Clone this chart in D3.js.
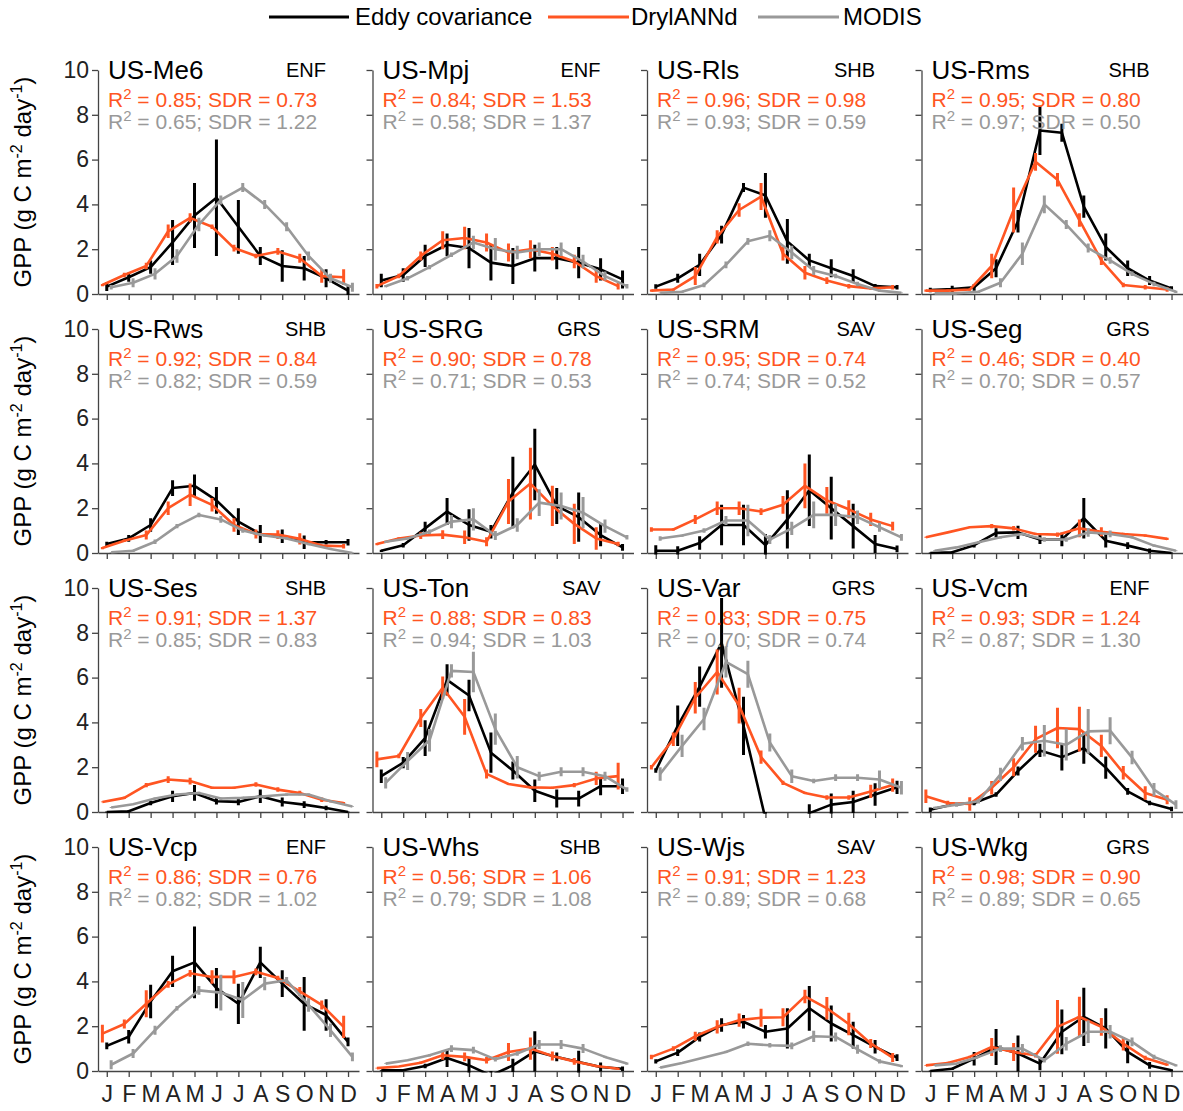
<!DOCTYPE html>
<html>
<head>
<meta charset="utf-8">
<script src="https://cdn.jsdelivr.net/npm/d3@7"></script>
<style>
  body { margin: 0; background: #fff; }
  svg { display: block; font-family: "Liberation Sans", Arial, Helvetica, sans-serif; }
</style>
</head>
<body>
<div id="chart"></div>
<script>
// month labels on the x axis
var months = ["J","F","M","A","M","J","J","A","S","O","N","D"];

// sites, in panel order (row by row)
var sites = ["US-Me6","US-Mpj","US-Rls","US-Rms",
             "US-Rws","US-SRG","US-SRM","US-Seg",
             "US-Ses","US-Ton","US-Var","US-Vcm",
             "US-Vcp","US-Whs","US-Wjs","US-Wkg"];
var vegTypes = ["ENF","ENF","SHB","SHB",
                "SHB","GRS","SAV","GRS",
                "SHB","SAV","GRS","ENF",
                "ENF","SHB","SAV","GRS"];

// [R2, SDR] for DrylANNd and MODIS against eddy covariance
var annStats = [[0.85,0.73],[0.84,1.53],[0.96,0.98],[0.95,0.80],
                [0.92,0.84],[0.90,0.78],[0.95,0.74],[0.46,0.40],
                [0.91,1.37],[0.88,0.83],[0.83,0.75],[0.93,1.24],
                [0.86,0.76],[0.56,1.06],[0.91,1.23],[0.98,0.90]];
var modisStats = [[0.65,1.22],[0.58,1.37],[0.93,0.59],[0.97,0.50],
                  [0.82,0.59],[0.71,0.53],[0.74,0.52],[0.70,0.57],
                  [0.85,0.83],[0.94,1.03],[0.70,0.74],[0.87,1.30],
                  [0.82,1.02],[0.79,1.08],[0.89,0.68],[0.89,0.65]];

// eddy covariance GPP, monthly mean and error
var ecMean = [
  [0.33,0.75,1.2,2.3,3.5,4.3,3.0,1.7,1.25,1.15,0.7,0.15],
  [0.6,0.85,1.7,2.2,2.05,1.4,1.25,1.6,1.6,1.4,1.1,0.65],
  [0.33,0.7,1.3,2.65,4.75,4.4,2.35,1.5,1.15,0.8,0.35,0.3],
  [0.18,0.22,0.3,1.15,3.25,7.3,7.2,3.9,2.1,1.15,0.6,0.25],
  [0.4,0.65,1.25,2.9,3.0,2.35,1.4,0.85,0.75,0.48,0.48,0.48],
  [0.1,0.35,1.1,1.85,1.25,0.95,2.7,3.95,2.1,1.6,0.8,0.25],
  [0.1,0.1,0.45,1.25,1.25,0.35,1.5,2.8,2.0,1.2,0.4,0.18],
  [0.0,0.03,0.35,0.9,0.92,0.6,0.6,1.55,0.55,0.33,0.1,0.0],
  [0.0,0.03,0.4,0.7,0.85,0.48,0.45,0.7,0.45,0.33,0.18,0.0],
  [1.6,2.2,3.3,5.9,5.2,2.65,1.85,0.95,0.6,0.6,1.15,1.15],
  [1.85,3.85,5.6,7.55,3.85,-0.3,-1.5,-0.05,0.33,0.45,0.78,1.1],
  [0.1,0.33,0.4,0.78,1.83,2.75,2.45,2.85,1.98,0.92,0.4,0.13],
  [1.12,1.53,3.1,4.45,4.85,3.7,3.0,4.85,3.9,3.0,2.5,1.3],
  [0.03,0.03,0.22,0.58,0.25,-0.2,0.25,0.88,0.63,0.4,0.18,0.1],
  [0.43,0.82,1.52,2.05,2.2,1.75,1.9,2.8,2.12,1.6,1.08,0.6],
  [0.0,0.1,0.55,1.07,0.78,0.33,1.75,2.42,1.9,0.85,0.25,0.03]
];
var ecErr = [
  [0.2,0.2,0.3,1.0,1.45,2.6,1.2,0.4,0.7,0.55,0.4,0.2],
  [0.3,0.3,0.5,0.5,0.9,0.8,0.8,0.6,0.5,0.7,0.5,0.4],
  [0.1,0.2,0.5,0.4,0.2,1.0,1.0,0.3,0.4,0.3,0.1,0.1],
  [0.1,0.15,0.15,0.4,0.5,1.1,0.4,0.5,0.6,0.35,0.2,0.1],
  [0.1,0.15,0.3,0.35,0.5,0.6,0.6,0.4,0.3,0.3,0.1,0.15],
  [0.05,0.1,0.3,0.6,0.7,0.3,1.6,1.6,0.8,1.1,0.5,0.15],
  [0.25,0.2,0.3,0.9,0.9,0.5,1.3,1.6,1.4,1.0,0.4,0.15],
  [0.02,0.05,0.1,0.2,0.3,0.2,0.3,0.9,0.3,0.15,0.1,0.02],
  [0.02,0.05,0.1,0.25,0.35,0.15,0.15,0.3,0.2,0.15,0.1,0.02],
  [0.3,0.25,0.8,0.7,0.7,0.9,0.4,0.5,0.4,0.35,0.4,0.35],
  [0.1,0.9,0.9,2.0,1.3,0.3,0.3,0.4,0.5,0.5,0.5,0.3],
  [0.1,0.05,0.1,0.1,0.2,0.3,0.6,0.7,0.5,0.15,0.1,0.1],
  [0.15,0.3,0.75,0.7,1.6,0.9,0.9,0.7,0.6,1.2,0.7,0.2],
  [0.02,0.02,0.1,0.4,0.35,0.2,0.3,0.9,0.2,0.5,0.2,0.1],
  [0.1,0.15,0.2,0.3,0.3,0.3,0.9,1.0,0.8,0.6,0.3,0.15],
  [0.02,0.05,0.3,0.8,0.8,0.3,1.0,1.3,0.9,0.5,0.15,0.05]
];

// DrylANNd GPP
var annMean = [
  [0.4,0.85,1.25,2.8,3.4,3.0,2.05,1.7,1.9,1.6,0.8,0.75],
  [0.35,0.8,1.7,2.4,2.5,2.3,1.85,2.0,1.8,1.45,0.8,0.35],
  [0.15,0.2,0.8,2.55,3.75,4.35,1.8,0.95,0.6,0.35,0.25,0.3],
  [0.15,0.15,0.2,1.25,3.75,5.9,5.1,3.3,1.5,0.4,0.3,0.2],
  [0.22,0.55,0.8,2.0,2.6,2.15,1.25,0.85,0.82,0.63,0.33,0.3],
  [0.4,0.65,0.78,0.82,0.7,0.5,2.3,3.1,2.1,1.3,0.65,0.4],
  [1.05,1.05,1.5,2.0,2.0,1.85,2.15,3.0,2.35,1.95,1.5,1.2],
  [0.7,0.92,1.15,1.2,1.1,0.85,0.82,1.1,0.95,0.85,0.78,0.63],
  [0.45,0.63,1.2,1.45,1.38,1.08,1.08,1.23,1.0,0.85,0.55,0.4],
  [2.35,2.5,4.2,5.55,4.25,1.7,1.25,1.1,1.08,1.2,1.5,1.6],
  [2.0,3.25,5.1,6.25,4.75,2.45,1.3,0.85,0.65,0.65,0.92,1.2],
  [0.7,0.4,0.36,1.08,2.0,3.25,3.75,3.7,2.95,1.75,0.85,0.55],
  [1.67,2.1,3.0,3.87,4.36,4.2,4.2,4.43,4.15,3.55,2.95,1.97],
  [0.13,0.2,0.37,0.7,0.63,0.48,0.85,1.0,0.67,0.43,0.22,0.1],
  [0.63,1.0,1.55,1.97,2.27,2.38,2.4,3.33,2.8,2.1,1.23,0.6],
  [0.25,0.36,0.63,1.07,0.85,0.7,1.97,2.42,1.97,1.22,0.58,0.28]
];
var annErr = [
  [0.05,0.1,0.15,0.3,0.2,0.1,0.15,0.1,0.15,0.2,0.3,0.35],
  [0.1,0.1,0.2,0.4,0.5,0.4,0.4,0.4,0.3,0.3,0.3,0.15],
  [0.05,0.05,0.4,0.3,0.3,0.6,0.3,0.3,0.15,0.1,0.05,0.1],
  [0.05,0.05,0.05,0.55,1.0,0.4,0.3,0.3,0.2,0.1,0.1,0.1],
  [0.05,0.05,0.2,0.3,0.5,0.3,0.3,0.2,0.2,0.25,0.05,0.1],
  [0.05,0.05,0.15,0.2,0.3,0.2,1.0,1.6,0.9,0.9,0.5,0.1],
  [0.1,0.05,0.2,0.3,0.3,0.15,0.4,1.0,0.6,0.4,0.3,0.2],
  [0.02,0.02,0.02,0.1,0.1,0.05,0.1,0.4,0.2,0.05,0.05,0.05],
  [0.02,0.05,0.1,0.15,0.15,0.05,0.05,0.1,0.1,0.1,0.1,0.05],
  [0.35,0.1,0.4,0.5,0.8,0.2,0.05,0.05,0.05,0.1,0.3,0.6],
  [0.1,0.3,0.7,1.0,0.8,0.3,0.1,0.05,0.1,0.1,0.3,0.3],
  [0.3,0.1,0.3,0.3,0.4,0.6,0.9,1.0,0.5,0.3,0.3,0.2],
  [0.4,0.2,0.6,0.15,0.15,0.3,0.3,0.15,0.1,0.2,0.2,0.5],
  [0.02,0.02,0.05,0.2,0.2,0.15,0.4,0.5,0.2,0.15,0.05,0.05],
  [0.1,0.1,0.2,0.3,0.3,0.4,0.4,0.3,0.5,0.5,0.2,0.2],
  [0.02,0.05,0.05,0.4,0.4,0.1,1.2,0.9,0.4,0.3,0.1,0.05]
];

// MODIS GPP
var modisMean = [
  [0.3,0.5,0.9,1.7,3.1,4.2,4.75,4.0,3.0,1.7,0.7,0.3],
  [0.35,0.7,1.2,1.75,2.3,2.0,1.85,2.0,2.0,1.45,0.8,0.35],
  [0.05,0.1,0.4,1.3,2.35,2.6,1.85,1.05,0.8,0.45,0.15,0.05],
  [0.03,0.03,0.1,0.5,1.8,4.0,3.1,2.05,1.5,0.9,0.45,0.1],
  [0.03,0.1,0.5,1.2,1.7,1.5,1.0,0.78,0.65,0.4,0.18,0.0],
  [0.5,0.65,0.95,1.4,1.5,0.78,1.25,2.25,2.1,1.8,1.2,0.7],
  [0.65,0.78,1.0,1.45,1.45,0.6,1.1,1.7,1.7,1.6,1.15,0.7],
  [0.1,0.25,0.48,0.7,0.85,0.6,0.6,0.92,0.85,0.7,0.33,0.1],
  [0.2,0.35,0.6,0.78,0.85,0.6,0.63,0.7,0.78,0.78,0.48,0.25],
  [1.3,2.28,3.2,6.3,6.25,3.7,2.0,1.6,1.8,1.8,1.6,1.0],
  [1.7,2.95,4.15,6.7,6.15,3.1,1.6,1.38,1.53,1.53,1.45,1.08],
  [0.18,0.33,0.48,1.68,3.05,3.18,3.0,3.6,3.63,2.43,1.0,0.33],
  [0.28,0.78,1.82,2.8,3.6,3.5,3.17,3.9,4.05,2.95,1.82,0.63],
  [0.33,0.48,0.7,1.0,0.93,0.52,0.78,1.18,1.18,1.0,0.63,0.33],
  [0.15,0.36,0.6,0.85,1.22,1.15,1.12,1.55,1.52,0.97,0.43,0.22],
  [0.25,0.33,0.63,1.0,1.0,0.48,1.22,1.75,1.75,1.3,0.63,0.25]
];
var modisErr = [
  [0.1,0.2,0.25,0.3,0.3,0.2,0.2,0.2,0.2,0.2,0.2,0.2],
  [0.05,0.1,0.1,0.1,0.3,0.5,0.3,0.3,0.3,0.3,0.2,0.1],
  [0.02,0.05,0.1,0.15,0.15,0.25,0.3,0.2,0.1,0.1,0.05,0.02],
  [0.02,0.02,0.05,0.2,0.5,0.4,0.2,0.2,0.15,0.1,0.1,0.05],
  [0.02,0.05,0.1,0.1,0.1,0.15,0.1,0.05,0.05,0.05,0.05,0.02],
  [0.05,0.05,0.1,0.3,0.5,0.2,0.3,0.6,0.6,0.7,0.3,0.1],
  [0.1,0.05,0.1,0.2,0.7,0.2,0.3,0.6,0.5,0.3,0.2,0.15],
  [0.02,0.02,0.05,0.05,0.05,0.1,0.1,0.2,0.15,0.05,0.05,0.02],
  [0.02,0.02,0.05,0.05,0.05,0.05,0.05,0.05,0.05,0.05,0.05,0.02],
  [0.25,0.4,0.5,0.3,0.9,0.7,0.5,0.2,0.2,0.2,0.2,0.1],
  [0.3,0.5,0.5,0.7,0.6,0.4,0.3,0.1,0.15,0.15,0.4,0.3],
  [0.05,0.1,0.1,0.3,0.3,0.7,0.7,1.0,0.6,0.3,0.3,0.2],
  [0.2,0.2,0.2,0.1,0.2,0.8,0.8,0.3,0.15,0.3,0.3,0.2],
  [0.02,0.02,0.05,0.15,0.15,0.1,0.1,0.2,0.2,0.2,0.05,0.05],
  [0.02,0.02,0.02,0.05,0.1,0.1,0.15,0.25,0.2,0.2,0.1,0.05],
  [0.02,0.02,0.05,0.15,0.2,0.1,0.3,0.5,0.3,0.2,0.1,0.05]
];

var yTicks = [0,2,4,6,8,10];

(function(d3){
  var W = 1183, H = 1111;
  var BLACK = "#000000", ORANGE = "#ff5522", GREY = "#999999";

  // panel grid
  var left0 = 98, dx = 274.5;   // left edge of each column
  var top0 = 70, dy = 259;      // top (y = 10) of each row
  var pw = 261, ph = 224;

  // series: draw order, colour, offset along x so the error bars do not overlap
  var series = [
    { name: "Eddy covariance", mean: ecMean,    err: ecErr,    color: BLACK,  off: 0 },
    { name: "DrylANNd",        mean: annMean,   err: annErr,   color: ORANGE, off: -0.2 },
    { name: "MODIS",           mean: modisMean, err: modisErr, color: GREY,   off: 0.2 }
  ];

  var svg = d3.select("#chart").append("svg")
    .attr("width", W).attr("height", H);

  var x = d3.scaleLinear().domain([0.6, 12.5]).range([0, pw]);
  var y = d3.scaleLinear().domain([0, 10]).range([ph, 0]);

  // 图例
  var legendItems = [
    { label: "Eddy covariance", color: BLACK,  x1: 269, x2: 349, tx: 355 },
    { label: "DrylANNd",        color: ORANGE, x1: 548, x2: 629, tx: 631 },
    { label: "MODIS",           color: GREY,   x1: 758, x2: 839, tx: 843 }
  ];
  var lg = svg.append("g").attr("class", "legend");
  legendItems.forEach(function(it){
    lg.append("line")
      .attr("x1", it.x1).attr("x2", it.x2).attr("y1", 17).attr("y2", 17)
      .attr("stroke", it.color).attr("stroke-width", 3);
    lg.append("text")
      .attr("x", it.tx).attr("y", 25)
      .attr("font-size", 24).attr("fill", "#000")
      .text(it.label);
  });

  // y 轴标题，每行一个
  for (var r = 0; r < 4; r++) {
    var yl = svg.append("text")
      .attr("transform", "translate(31," + (top0 + r * dy + ph / 2) + ") rotate(-90)")
      .attr("text-anchor", "middle")
      .attr("font-size", 24);
    yl.append("tspan").text("GPP (g C m");
    yl.append("tspan").attr("dy", -9).attr("font-size", 16).text("-2");
    yl.append("tspan").attr("dy", 9).text(" day");
    yl.append("tspan").attr("dy", -9).attr("font-size", 16).text("-1");
    yl.append("tspan").attr("dy", 9).text(")");
  }

  var line = function(off){
    return d3.line()
      .x(function(d, i){ return x(i + 1 + off); })
      .y(function(d){ return y(d); });
  };

  function statLine(g, stats, color, yPos){
    var t = g.append("text")
      .attr("x", 10).attr("y", yPos)
      .attr("font-size", 21).attr("fill", color);
    t.append("tspan").text("R");
    t.append("tspan").attr("dy", -8).attr("font-size", 15).text("2");
    t.append("tspan").attr("dy", 8)
      .text(" = " + stats[0].toFixed(2) + "; SDR = " + stats[1].toFixed(2));
  }

  sites.forEach(function(site, k){
    var row = Math.floor(k / 4), col = k % 4;
    var g = svg.append("g")
      .attr("transform", "translate(" + (left0 + col * dx) + "," + (top0 + row * dy) + ")");

    // clip the series to the axes box
    var cid = "clip" + k;
    g.append("clipPath").attr("id", cid)
      .append("rect").attr("x", -2).attr("y", -15).attr("width", pw + 6).attr("height", ph + 16.5);

    // axes
    var ya = d3.axisLeft(y).tickValues(yTicks).tickSizeInner(6).tickSizeOuter(0)
      .tickFormat(col === 0 ? d3.format("d") : function(){ return ""; });
    var xa = d3.axisBottom(x).tickValues(d3.range(1, 13)).tickSizeInner(6).tickSizeOuter(0)
      .tickFormat(function(d){ return row === 3 ? months[d - 1] : ""; });

    var gy = g.append("g").call(ya);
    var gx = g.append("g").attr("transform", "translate(0," + ph + ")").call(xa);
    [gx, gy].forEach(function(a){
      a.selectAll("path, line").attr("stroke", "#444").attr("stroke-width", 1.3);
      a.selectAll("text").attr("font-size", 23).attr("fill", "#222")
        .attr("font-family", "Liberation Sans, Arial, sans-serif");
    });
    gy.selectAll("text").attr("x", -9);
    gx.selectAll("text").attr("y", 15);

    // series lines and error bars
    var plot = g.append("g").attr("clip-path", "url(#" + cid + ")");
    series.forEach(function(s){
      var m = s.mean[k], e = s.err[k];
      plot.append("path")
        .datum(m)
        .attr("fill", "none")
        .attr("stroke", s.color)
        .attr("stroke-width", 2.6)
        .attr("stroke-linejoin", "round")
        .attr("d", line(s.off));
      plot.selectAll(null)
        .data(m)
        .enter().append("line")
        .attr("x1", function(d, i){ return x(i + 1 + s.off); })
        .attr("x2", function(d, i){ return x(i + 1 + s.off); })
        .attr("y1", function(d, i){ return y(d - e[i]); })
        .attr("y2", function(d, i){ return y(d + e[i]); })
        .attr("stroke", s.color)
        .attr("stroke-width", 3);
    });

    // labels
    g.append("text").attr("x", 10).attr("y", 9)
      .attr("font-size", 26).attr("fill", "#000").text(site);
    g.append("text").attr("x", 228).attr("y", 7)
      .attr("text-anchor", "end")
      .attr("font-size", 20).attr("fill", "#000").text(vegTypes[k]);
    statLine(g, annStats[k], ORANGE, 37);
    statLine(g, modisStats[k], GREY, 59);
  });
})(d3);
</script>
</body>
</html>
